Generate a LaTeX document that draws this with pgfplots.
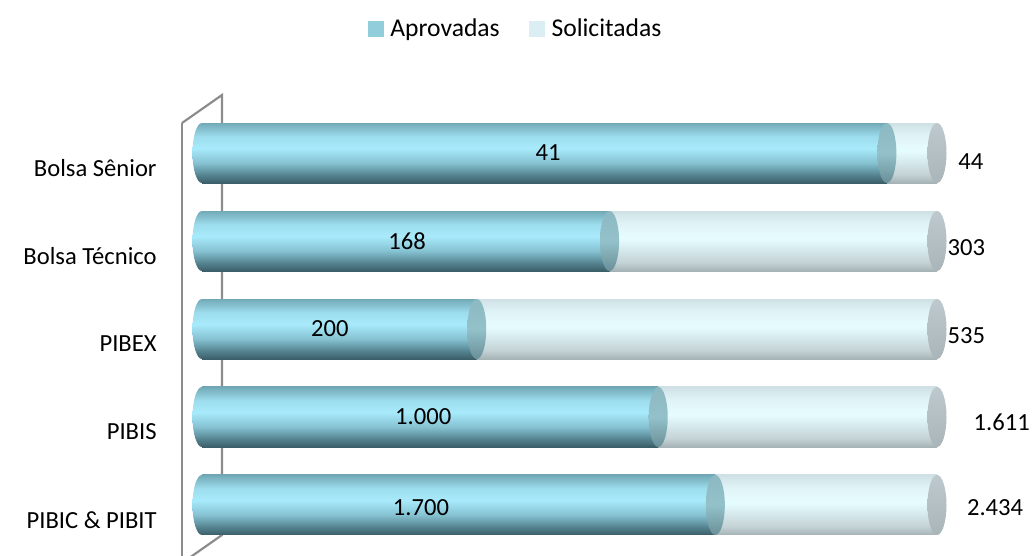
\documentclass[border=0pt]{standalone}
\usepackage{pgfplots}
\pgfplotsset{compat=1.18}
\usepackage{pgfplotstable}
\usepackage{fontspec}
\setmainfont{Carlito}

\definecolor{aB}{HTML}{3B5F69}
\definecolor{aB2}{HTML}{527F8B}
\definecolor{aM1}{HTML}{86C3D3}
\definecolor{aM}{HTML}{A8EAFB}
\definecolor{aM2}{HTML}{9CDCEC}
\definecolor{aT}{HTML}{72A9B7}
\definecolor{sB}{HTML}{A6B3B6}
\definecolor{sB2}{HTML}{C3D2D5}
\definecolor{sM}{HTML}{E6FDFF}
\definecolor{sM2}{HTML}{E0F4F7}
\definecolor{sT}{HTML}{CFE1E5}
\definecolor{cAB}{HTML}{6A8F97}
\definecolor{cAM}{HTML}{93C1CA}
\definecolor{cAT}{HTML}{8CB8C1}
\definecolor{cSB}{HTML}{A9B5B8}
\definecolor{cST}{HTML}{BDC9CC}
\definecolor{legA}{HTML}{92CDDC}
\definecolor{legS}{HTML}{DBEEF3}
\definecolor{wall}{HTML}{8C8C8C}

\pgfdeclareverticalshading{cylA}{100bp}{color(0bp)=(aB); color(25bp)=(aB); color(31bp)=(aB2); color(42bp)=(aM1); color(54bp)=(aM); color(64bp)=(aM2); color(75bp)=(aT); color(100bp)=(aT)}
\pgfdeclareverticalshading{cylS}{100bp}{color(0bp)=(sB); color(25bp)=(sB); color(32bp)=(sB2); color(52bp)=(sM); color(64bp)=(sM2); color(75bp)=(sT); color(100bp)=(sT)}
\pgfdeclareverticalshading{capAsh}{100bp}{color(0bp)=(cAB); color(25bp)=(cAB); color(50bp)=(cAM); color(75bp)=(cAT); color(100bp)=(cAT)}
\pgfdeclareverticalshading{capSsh}{100bp}{color(0bp)=(cSB); color(25bp)=(cSB); color(75bp)=(cST); color(100bp)=(cST)}

\pgfdeclareplotmark{capA}{%
  \pgfpathellipse{\pgfpointorigin}{\pgfqpoint{4.75pt}{0pt}}{\pgfqpoint{0pt}{15pt}}%
  \pgfshadepath{capAsh}{0}\pgfusepath{discard}}
\pgfdeclareplotmark{capS}{%
  \pgfpathellipse{\pgfpointorigin}{\pgfqpoint{4.75pt}{0pt}}{\pgfqpoint{0pt}{15pt}}%
  \pgfshadepath{capSsh}{0}\pgfusepath{discard}}
\pgfdeclareplotmark{leftA}{%
  \pgfpathellipse{\pgfpointorigin}{\pgfqpoint{4.75pt}{0pt}}{\pgfqpoint{0pt}{15pt}}%
  \pgfshadepath{cylA}{0}\pgfusepath{discard}}

\pgfplotstableread{
y apr sol alx aly alab slx sly slab
0 69.84 100 29.8 -0.03 1.700 107.9 -0.03 2.434
1 62.07 100 30.1 1.00 1.000 108.8 0.94 1.611
2 37.38 100 17.4 2.00 200 104.0 1.93 535
3 55.45 100 27.9 3.00 168 104.0 2.92 303
4 93.18 100 47.1 4.00 41 104.6 3.90 44
}\data

\pgfplotstableread{
x y
-2.72 4.341
2.72 4.659
2.72 -0.341
-2.72 -0.659
}\wallback
\pgfplotstableread{
x y
-2.72 -0.75
-2.72 4.341
}\wallfront

\newcommand{\lblfont}{\fontsize{12.3}{14}\selectfont}
\newcommand{\legfont}{\fontsize{12.8}{14}\selectfont}

\begin{document}
\begin{tikzpicture}
\path[use as bounding box] (0,0) rectangle (516.5pt,278pt);
\begin{axis}[
  at={(101pt,3.5pt)}, anchor=south west,
  scale only axis, width=367.5pt, height=220pt,
  xmin=0, xmax=100, ymin=-0.5, ymax=4.5,
  clip=false,
  axis line style={draw=none},
  tick style={draw=none},
  xtick=\empty,
  ytick={0,1,2,3,4},
  yticklabels={PIBIC \& PIBIT, PIBIS, PIBEX, Bolsa Técnico, Bolsa Sênior},
  yticklabel style={anchor=east, inner sep=0pt, xshift=-22.5pt, yshift=-7.5pt, font=\lblfont},
  legend style={draw=none, fill=none, at={(0.43,1.182)}, anchor=center,
    legend columns=2, font=\legfont, inner sep=0pt,
    nodes={inner xsep=3.5pt},
    /tikz/every even column/.append style={column sep=11pt}},
]
\addlegendimage{legend image code/.code={\fill[legA] (0pt,-3.75pt) rectangle (7.5pt,3.75pt);}}
\addlegendentry{Aprovadas}
\addlegendimage{legend image code/.code={\fill[legS] (0pt,-3.75pt) rectangle (7.5pt,3.75pt);}}
\addlegendentry{Solicitadas}

% wall
\addplot[forget plot, wall, line width=1.1pt, mark=none] table[x=x,y=y] {\wallback};
\addplot[forget plot, wall, line width=1.1pt, mark=none] table[x=x,y=y] {\wallfront};

% Solicitadas cylinders (one plot per category so each bar gets its own shading)
\pgfplotsinvokeforeach{-0.1:0.1, 0.9:1.1, 1.9:2.1, 2.9:3.1, 3.9:4.1}{
\addplot[forget plot, xbar, bar width=30pt, bar shift=0pt, draw=none, shade, shading=cylS, shading angle=0,
  restrict y to domain=#1]
  table[x=sol, y=y] {\data};
}
\addplot[forget plot, only marks, mark=capS] table[x=sol, y=y] {\data};

% Aprovadas cylinders
\addplot[forget plot, only marks, mark=leftA] table[x expr=0, y=y] {\data};
\pgfplotsinvokeforeach{-0.1:0.1, 0.9:1.1, 1.9:2.1, 2.9:3.1, 3.9:4.1}{
\addplot[forget plot, xbar, bar width=30pt, bar shift=0pt, draw=none, shade, shading=cylA, shading angle=0,
  restrict y to domain=#1]
  table[x=apr, y=y] {\data};
}
\addplot[forget plot, only marks, mark=capA] table[x=apr, y=y] {\data};

% labels
\addplot[forget plot, draw=none, mark=none, nodes near coords, point meta=explicit symbolic,
  every node near coord/.style={anchor=center, font=\lblfont, text=black}]
  table[x=alx, y=aly, meta=alab] {\data};
\addplot[forget plot, draw=none, mark=none, nodes near coords, point meta=explicit symbolic,
  every node near coord/.style={anchor=center, font=\lblfont, text=black}]
  table[x=slx, y=sly, meta=slab] {\data};
\end{axis}
\end{tikzpicture}
\end{document}
